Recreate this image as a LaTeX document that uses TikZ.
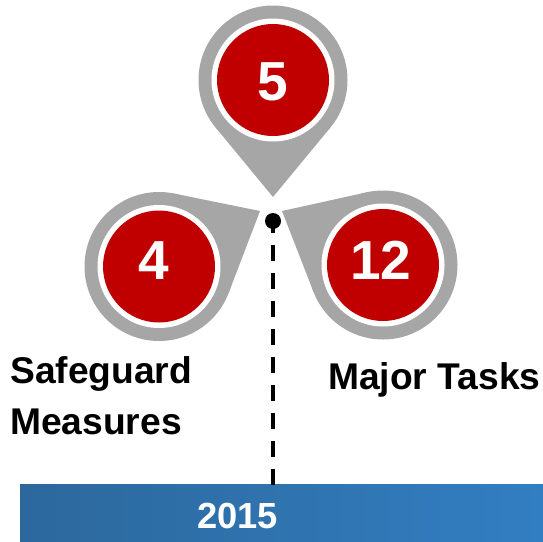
\documentclass[tikz,border=0pt]{standalone}
\usepackage{fontspec}
\setmainfont{Liberation Sans}
\usetikzlibrary{calc}
\definecolor{pingray}{RGB}{166,166,166}
\definecolor{pinred}{RGB}{192,0,0}
\definecolor{barl}{RGB}{44,104,156}
\definecolor{barr}{RGB}{50,126,194}
\tikzset{
  pinbase/.style={circle,fill=pingray,minimum size=149pt,inner sep=0pt,outer sep=0pt},
  pinring/.style={circle,fill=white,minimum size=123pt,inner sep=0pt},
  pinface/.style={circle,fill=pinred,minimum size=112pt,inner sep=0pt},
  pinnumber/.style={text=white,inner sep=0pt,font=\fontsize{55}{55}\bfseries\selectfont},
  caption/.style={font=\fontsize{37.2}{50.5}\bfseries\selectfont,align=left,inner sep=0pt},
  connector/.style={line width=4pt,dash pattern=on 16pt off 12pt,dash phase=4pt}
}
\newcommand{\mypin}[5]{%
  % #1 name, #2 centre, #3 tip, #4 text position, #5 text
  \node[pinbase] (#1base) at (#2) {};
  \coordinate (#1tip) at (#3);
  \fill[pingray] (#1tip) -- (tangent cs:node=#1base,point={(#1tip)},solution=1)
     -- (tangent cs:node=#1base,point={(#1tip)},solution=2) -- cycle;
  \node[pinring] (#1ring) at (#2) {};
  \node[pinface] (#1face) at (#2) {};
  \node[pinnumber] (#1num) at (#4) {#5};
}
\begin{document}
\begin{tikzpicture}[x=1pt,y=-1pt]
\useasboundingbox (0,0) rectangle (543,541);
\node[inner sep=0pt,minimum width=523pt,minimum height=57pt,left color=barl,right color=barr,anchor=north west] (bar) at (20,484) {};
\node[text=white,font=\fontsize{36.3}{36}\bfseries\selectfont,inner sep=0pt] (year) at (237.5,516) {2015};
\mypin{top}{273,80}{273,197}{273,82}{5}
\mypin{left}{159,266.5}{260,211}{153.5,261}{4}
\mypin{right}{383,265}{282,211}{381,260.5}{12}
\node[circle,fill=black,minimum size=16pt,inner sep=0pt] (dot) at (273,221) {};
\coordinate (barjoin) at (273,485);
\draw[connector] (dot.center) -- (barjoin);
\node[caption,anchor=north west] (safe) at (10,356.5) {Safeguard\\Measures};
\node[caption,anchor=north west] (major) at (328,362) {Major Tasks};
\end{tikzpicture}
\end{document}
